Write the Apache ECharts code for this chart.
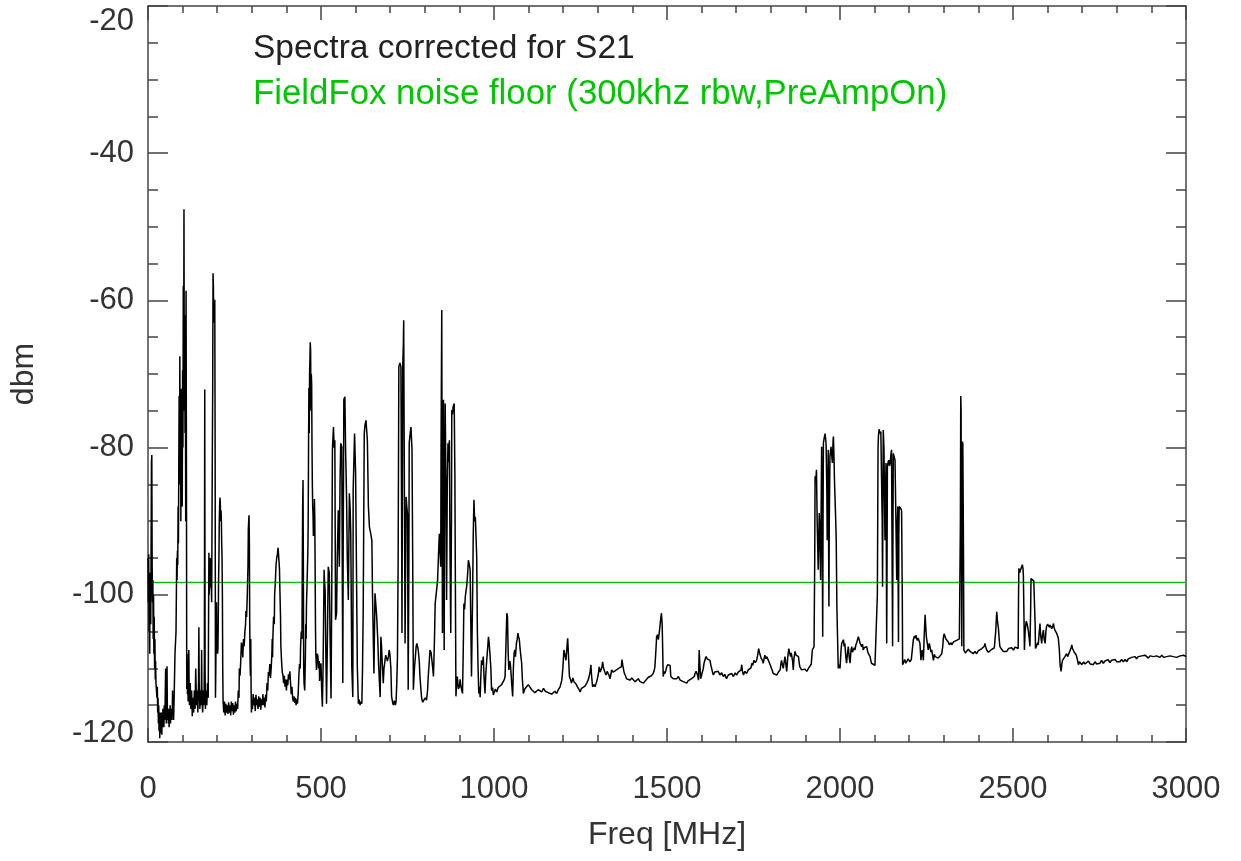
<!DOCTYPE html>
<html>
<head>
<meta charset="utf-8">
<script src="https://cdn.jsdelivr.net/npm/echarts@6/dist/echarts.min.js"></script>
<style>
html,body{margin:0;padding:0;background:#fff;}
#chart{width:1241px;height:861px;}
</style>
</head>
<body>
<div id="chart"></div>
<script>
// ---- Data ----
var xTicks = [0, 500, 1000, 1500, 2000, 2500, 3000];
var yTicks = [-120, -100, -80, -60, -40, -20];
var noiseFloorDbm = -98.3;
var legendTexts = ['Spectra corrected for S21', 'FieldFox noise floor (300khz rbw,PreAmpOn)'];

// Spectrum [freq MHz, dBm], 0 - 500 MHz
var band0to500 = [[0,-95],[1,-101],[2,-94.5],[3,-105],[4,-99],[5,-108],[6,-97],[8,-104],[10,-82],[11,-81],[12,-96],[13,-101],[14,-98],[15,-106],[16,-100],[17,-108],[18,-103],[19,-110],[20,-106],[21,-111.5],[22,-109],[23,-112],[25,-111.8],[26,-114],[27,-112.5],[28,-116],[29,-114],[30,-117.5],[31,-115],[32,-118.5],[33,-116],[34,-119.5],[35,-117],[36,-118],[37,-116],[38,-118.8],[39,-117],[40,-119],[41,-116],[42,-118],[43,-115.5],[44,-117.5],[45,-116],[46,-118],[47,-115],[48,-117],[49,-116.5],[50,-113],[51,-110],[52,-116],[53,-117.5],[54,-115],[55,-109.7],[56,-116],[57,-117],[58,-115.5],[59,-117.5],[60,-116],[61,-118],[62,-115.5],[63,-117],[64,-115],[65,-117.5],[66,-116],[67,-117],[68,-115.5],[70,-116.5],[71,-113],[72,-117],[73,-116],[74,-117],[76,-113],[78,-108],[80,-106],[81,-105],[82,-100],[83,-95],[84,-98],[85,-94],[86,-96],[87,-88],[88,-93],[89,-82.3],[90,-73],[91,-85],[92,-67.6],[93,-80],[94,-74],[95,-90],[96,-72],[97,-84],[98,-73],[99,-88],[100,-69.5],[101,-80],[102,-58],[103,-72],[104,-47.6],[105,-75],[106,-62],[107,-78],[108,-66],[109,-90],[110,-58.7],[111,-80],[112,-112.8],[113,-108],[114,-113.5],[115,-111],[116,-114.5],[117,-112],[118,-107.5],[119,-113],[120,-115],[122,-112],[124,-115.5],[126,-113],[128,-116.5],[130,-114],[132,-116],[134,-113],[136,-115.5],[138,-110],[140,-115],[142,-113],[144,-116],[146,-112],[147,-104.4],[148,-112],[150,-115.5],[152,-113],[154,-115],[155,-107.5],[156,-114],[158,-116],[160,-113],[162,-115],[163,-108],[164,-72.1],[165,-110],[166,-115.5],[168,-113],[170,-115],[172,-112],[174,-114],[175,-104],[176,-94.3],[177,-100],[178,-96.7],[179,-99],[180,-95],[182,-97],[184,-101],[186,-80],[187,-72],[188,-56.3],[189,-58],[190,-63],[192,-62],[193,-59.9],[194,-80],[195,-114],[196,-110],[197,-105],[198,-101],[199,-107],[200,-104],[201,-108],[202,-107.5],[203,-104],[204,-98],[205,-95],[206,-90],[207,-88],[208,-86.8],[209,-87.5],[210,-90],[211,-88.5],[212,-89.7],[213,-93],[214,-95],[215,-100],[216,-110],[217,-114.5],[219,-116],[221,-114.5],[223,-116.4],[225,-114.8],[227,-116],[229,-115],[231,-116.2],[233,-114.6],[235,-116],[237,-115],[239,-116.4],[241,-114.5],[243,-115.8],[245,-114.7],[247,-116.3],[249,-115],[251,-116],[253,-114.5],[255,-115.8],[257,-114.8],[259,-115.5],[261,-113],[263,-114],[264,-110],[266,-111],[268,-109],[270,-106.5],[272,-107],[274,-108.5],[276,-106],[278,-107],[280,-105],[282,-104],[283,-102.2],[285,-103],[287,-100],[289,-96],[290,-91],[291,-90],[292,-89.2],[293,-93],[294,-104],[295,-109],[296,-111],[297,-106],[298,-113],[299,-116],[300,-114.2],[302,-115.5],[304,-113.5],[306,-115],[308,-114],[310,-115.8],[312,-113.6],[314,-115],[316,-114.2],[318,-115.5],[320,-113.8],[322,-115.2],[324,-114],[326,-115.6],[328,-114.2],[330,-115],[332,-113.5],[334,-115],[336,-114],[338,-115.3],[340,-113.6],[342,-114.5],[344,-112],[346,-113],[348,-110.5],[350,-111],[352,-109.4],[354,-111.3],[356,-110],[358,-108],[359,-106],[360,-108.5],[361,-105.6],[363,-103],[365,-104],[366,-100],[368,-98.4],[370,-96],[372,-95],[374,-94.5],[376,-93.6],[378,-95],[380,-96.5],[381,-98.9],[383,-103],[384,-107],[386,-109],[388,-110.5],[390,-110.9],[392,-112],[394,-111],[396,-112.5],[398,-111.5],[400,-113],[402,-111.5],[404,-112.3],[406,-110.8],[408,-111.5],[410,-110.4],[412,-112],[414,-113.5],[416,-112.5],[418,-114],[420,-114.5],[422,-113.8],[424,-114.7],[426,-114],[428,-115],[430,-114.2],[432,-114.8],[434,-113.5],[436,-111],[438,-109.4],[440,-110],[441,-107],[443,-105],[445,-106],[446,-96],[447,-88],[448,-84.4],[449,-96],[450,-110],[451,-112],[453,-113],[455,-108],[456,-104],[457,-106],[458,-101.5],[460,-98],[461,-96],[462,-94.2],[463,-90],[464,-80],[465,-71.9],[466,-78],[467,-70],[468,-68],[469,-65.7],[470,-67],[471,-75],[472,-70],[473,-71.4],[474,-80],[475,-85],[476,-88],[477,-89.2],[478,-92],[479,-88],[480,-90],[481,-87],[482,-89.5],[483,-96],[484,-104],[485,-108],[487,-110.2],[489,-108],[491,-108.3],[493,-110],[495,-109],[496,-111.7],[498,-110]];

// 500 - 1000 MHz
var band500to1000 = [[500,-109.3],[502,-113],[504,-115.2],[506,-110],[509,-96.6],[510,-98],[512,-99.4],[514,-108],[516,-114.8],[518,-108],[521,-96.2],[524,-97.1],[526,-105],[529,-114.1],[531,-100],[533,-80.3],[536,-77.2],[538,-80],[540,-79],[542,-103.4],[545,-102.5],[547,-95],[550,-88.5],[553,-96.2],[555,-85],[557,-79.4],[560,-79.9],[563,-112],[564,-95],[566,-73.5],[569,-73.1],[571,-80],[574,-87.1],[576,-95],[579,-100.7],[582,-86.2],[584,-88],[586,-91.7],[589,-109.8],[592,-113.9],[593,-85.8],[597,-78.1],[600,-83.5],[603,-98.9],[605,-109.8],[608,-114.8],[610,-114.2],[613,-115],[615,-114.5],[618,-114.8],[620,-110],[622,-102.1],[625,-78.1],[627,-77],[630,-76.3],[634,-79],[637,-88],[640,-90.8],[643,-91.5],[647,-92.6],[649,-100.3],[653,-110.7],[656,-99.8],[658,-101],[661,-103],[664,-106],[666,-108.9],[669,-112],[671,-113.9],[673,-105.7],[675,-107],[677,-109.3],[680,-112],[682,-110],[685,-108.9],[687,-108.2],[690,-108],[692,-109],[695,-108.4],[697,-107.5],[699,-108],[702,-110],[704,-113.8],[707,-114.6],[709,-115],[712,-114.4],[715,-115],[717,-114.5],[719,-112],[721,-108.4],[723,-95],[725,-69],[728,-68.5],[731,-69],[733,-90],[734,-105.2],[735,-90],[736,-69.5],[738,-66],[739,-62.7],[740,-75],[743,-106.6],[746,-86.7],[748,-88],[750,-89],[752,-112.9],[754,-95],[755,-79.4],[758,-78],[760,-77.2],[763,-80.3],[765,-95],[767,-112.9],[770,-110],[772,-108.9],[775,-107],[777,-106.6],[779,-107],[781,-107.5],[784,-109],[786,-111.1],[789,-113],[791,-114.1],[794,-114.6],[798,-114.5],[801,-114],[805,-114.3],[808,-113],[810,-111.1],[813,-109],[815,-107.5],[818,-107.8],[820,-108],[823,-110],[825,-111.1],[828,-106],[830,-101.2],[834,-101.2],[837,-98],[839,-95.3],[842,-91.7],[846,-96.2],[847,-80],[849,-61.3],[850,-85],[851,-105.2],[852,-90],[854,-73.5],[856,-107.5],[857,-90],[859,-74],[861,-85],[863,-100.7],[865,-85],[867,-79.4],[869,-82],[871,-79],[873,-95],[875,-105.2],[877,-90],[878,-74.9],[880,-75.5],[882,-74.4],[885,-74],[887,-84],[888,-95],[890,-113.8],[892,-112],[894,-111.1],[897,-112.8],[900,-112.5],[902,-111.5],[904,-112.3],[907,-113],[909,-113.4],[911,-108],[913,-101.2],[915,-102],[917,-100.3],[919,-99.5],[921,-98.9],[924,-97],[926,-95.3],[929,-96],[931,-96.6],[933,-104],[935,-111.1],[937,-104],[938,-100.7],[940,-92],[942,-87.1],[944,-90],[946,-89.4],[948,-92],[950,-94.8],[952,-105.2],[954,-110],[956,-113.4],[958,-112.5],[960,-113.9],[962,-111],[964,-108.9],[967,-109.5],[969,-108.4],[971,-111],[974,-113.4],[976,-111],[979,-108.9],[982,-107],[984,-105.7],[986,-106.5],[988,-106.6],[991,-110],[993,-113],[996,-112.6],[998,-113.6]];

// 1000 - 1925 MHz
var band1000to1925 = [[1001,-113.5],[1004,-112.8],[1008,-113.2],[1012,-112.6],[1017,-112.5],[1022,-112.2],[1027,-112],[1030,-111.5],[1032,-111.1],[1035,-106],[1037,-102.5],[1039,-103],[1041,-108],[1043,-110.2],[1046,-109],[1048,-109.8],[1051,-112],[1054,-113.8],[1056,-110],[1058,-108],[1060,-107.5],[1062,-108.4],[1065,-106.5],[1067,-106.1],[1069,-105.2],[1071,-105.7],[1073,-106],[1075,-107.1],[1078,-108.5],[1080,-109.3],[1082,-111.5],[1085,-113.4],[1089,-112.8],[1094,-112.7],[1099,-112.2],[1104,-112.3],[1109,-112.9],[1114,-112.9],[1118,-113.3],[1123,-113.4],[1128,-112.9],[1133,-113],[1138,-113.2],[1143,-112.7],[1148,-113.1],[1152,-113],[1157,-113.3],[1162,-113.2],[1167,-113.5],[1171,-113.3],[1176,-113.1],[1181,-113.4],[1186,-112.9],[1191,-112.5],[1196,-111.6],[1199,-110],[1202,-107.5],[1205,-108.2],[1208,-108.9],[1211,-107],[1213,-105.9],[1215,-108],[1218,-111.1],[1221,-111.5],[1224,-112],[1228,-111.3],[1231,-111.8],[1234,-111.6],[1238,-112.2],[1241,-112.5],[1245,-112.8],[1249,-113.2],[1253,-112.7],[1258,-112.9],[1263,-112.4],[1268,-112],[1272,-111.6],[1275,-111.1],[1278,-110.4],[1280,-109.5],[1282,-111],[1285,-112.5],[1289,-112.2],[1292,-112.5],[1296,-111.9],[1299,-111.4],[1302,-110.6],[1304,-109.8],[1307,-110.5],[1309,-110.7],[1312,-109.8],[1314,-109.1],[1316,-109.8],[1318,-110.2],[1321,-110.6],[1324,-110.9],[1327,-110.4],[1330,-110.7],[1333,-111],[1335,-111.4],[1338,-110.8],[1340,-110.2],[1344,-110.5],[1347,-110.7],[1351,-110.3],[1355,-110.4],[1360,-110],[1364,-110.2],[1368,-109.8],[1370,-108.8],[1372,-109.5],[1375,-110.3],[1377,-110.7],[1380,-111],[1383,-111.4],[1388,-111.2],[1393,-111.6],[1398,-111.3],[1403,-111.4],[1408,-111.8],[1412,-111.6],[1417,-111.4],[1422,-111.8],[1427,-111.6],[1432,-112],[1437,-111.7],[1441,-111.6],[1446,-111.2],[1451,-111.4],[1455,-111],[1460,-110.7],[1463,-110.3],[1465,-109.8],[1468,-107.5],[1470,-105.7],[1473,-105.4],[1475,-106.1],[1478,-105],[1480,-104.8],[1482,-103.2],[1484,-102.5],[1486,-104],[1487,-106.1],[1489,-111.1],[1492,-110.4],[1494,-110.7],[1497,-110.2],[1499,-109.8],[1502,-109.5],[1505,-109.3],[1509,-109.6],[1511,-111.1],[1515,-111],[1518,-111.4],[1523,-111.2],[1528,-111.4],[1533,-111.1],[1538,-111.6],[1542,-111.4],[1547,-111.8],[1552,-111.6],[1557,-112],[1561,-111.7],[1566,-111.8],[1571,-111.4],[1576,-111.6],[1579,-111.1],[1581,-110.7],[1584,-110.4],[1586,-110.2],[1589,-111],[1591,-111.6],[1593,-107.5],[1595,-109.5],[1597,-111.4],[1600,-110.9],[1602,-110.7],[1605,-110],[1607,-109.3],[1610,-108.8],[1613,-108.4],[1616,-108.7],[1618,-108.9],[1621,-108.5],[1624,-108.9],[1627,-109.6],[1629,-110],[1632,-110.6],[1634,-110.9],[1638,-110.5],[1643,-110.7],[1648,-110.4],[1653,-110.9],[1658,-110.6],[1663,-111.1],[1667,-110.8],[1672,-111.4],[1677,-110.9],[1682,-111.1],[1687,-110.7],[1692,-111.1],[1697,-110.6],[1701,-110.9],[1706,-110.5],[1711,-110.7],[1714,-110.2],[1716,-109.5],[1718,-110.4],[1721,-110.9],[1725,-110.4],[1730,-110.7],[1735,-110.2],[1740,-110.4],[1743,-109.9],[1745,-109.3],[1748,-109.6],[1751,-108.9],[1755,-109.2],[1759,-108.9],[1762,-108.2],[1765,-107.3],[1767,-107.8],[1769,-108],[1772,-108.6],[1774,-108.4],[1776,-108.9],[1778,-109.3],[1781,-108.6],[1783,-108.2],[1786,-108.7],[1788,-108.4],[1792,-108.8],[1796,-108.9],[1799,-109.6],[1802,-110],[1805,-110.4],[1807,-110.7],[1812,-110.6],[1817,-110.9],[1822,-110.5],[1827,-110.2],[1829,-109.5],[1831,-108.9],[1834,-109.6],[1836,-110],[1839,-109],[1841,-108.4],[1844,-109.6],[1846,-110.4],[1849,-108.5],[1852,-107.3],[1855,-108],[1857,-108.4],[1859,-107.9],[1861,-107.7],[1863,-109],[1865,-110.2],[1867,-108.6],[1870,-107.7],[1873,-108.2],[1875,-108],[1878,-108.3],[1880,-108.4],[1882,-109.2],[1884,-109.8],[1889,-110.2],[1894,-110.4],[1899,-110.1],[1904,-110.4],[1909,-110],[1913,-110.2],[1917,-109.4],[1920,-107.5],[1923,-107.3],[1925,-107.05]];

// 1925 - 3000 MHz
var band1925to3000 = [[1927,-95],[1928,-83.9],[1930,-84.5],[1932,-83],[1934,-90],[1937,-96.6],[1940,-88.9],[1942,-92],[1944,-98],[1946,-85],[1947,-79.9],[1949,-95],[1950,-105.7],[1951,-90],[1952,-79.4],[1955,-78.5],[1957,-78.1],[1959,-79],[1960,-79.9],[1962,-86],[1963,-92.6],[1965,-85],[1966,-80.3],[1967,-92],[1968,-101.6],[1969,-90],[1971,-81.2],[1974,-79.9],[1976,-81],[1978,-82.1],[1980,-79],[1981,-78.5],[1983,-82],[1984,-84.4],[1987,-88.9],[1989,-92.3],[1991,-101.6],[1993,-106],[1995,-110],[1998,-109.5],[2000,-110],[2003,-107.5],[2005,-106.6],[2008,-106.8],[2010,-106.1],[2012,-107],[2014,-106.6],[2017,-108.5],[2019,-109.3],[2022,-107.8],[2024,-107.05],[2027,-108.6],[2029,-109.3],[2032,-107.5],[2034,-107.05],[2036,-107.8],[2038,-108],[2041,-107.2],[2043,-107.5],[2046,-106.8],[2049,-106.4],[2051,-106],[2053,-105.7],[2056,-106.2],[2058,-106.6],[2061,-106.8],[2063,-107.05],[2065,-106.7],[2067,-107.5],[2070,-107.2],[2074,-107.4],[2077,-107.05],[2080,-107.7],[2082,-108],[2085,-108.2],[2087,-108.4],[2089,-108.9],[2091,-109.3],[2094,-109.1],[2096,-109.5],[2101,-109.6],[2106,-109.8],[2108,-100],[2110,-80],[2111,-78.5],[2113,-77.5],[2116,-78.1],[2118,-77.8],[2120,-77.6],[2122,-90],[2123,-98.9],[2124,-88],[2125,-77.6],[2127,-80],[2130,-92.6],[2132,-85],[2133,-82.1],[2134,-95],[2135,-106.6],[2136,-95],[2137,-82.6],[2139,-82],[2141,-81.7],[2143,-82.5],[2145,-82.1],[2147,-81],[2149,-80.3],[2150,-90],[2152,-107],[2153,-92],[2154,-80.8],[2157,-81],[2159,-81.7],[2161,-88],[2164,-98],[2166,-90],[2167,-88],[2169,-106.4],[2170,-92],[2171,-88],[2173,-88],[2176,-88.3],[2178,-88.6],[2180,-100],[2181,-109.5],[2183,-109.3],[2187,-108.8],[2190,-109.3],[2193,-109.1],[2197,-108.7],[2202,-109.1],[2206,-108.8],[2210,-108.9],[2212,-106.1],[2215,-105.6],[2217,-105.9],[2220,-105.5],[2223,-106.2],[2226,-105.9],[2229,-106.3],[2231,-106.6],[2234,-108.9],[2236,-107.8],[2238,-107.5],[2241,-108.9],[2243,-106],[2246,-102.7],[2248,-104.5],[2250,-105.9],[2253,-106.8],[2255,-107.5],[2258,-106.6],[2260,-107],[2263,-107.8],[2265,-107.5],[2268,-108.3],[2270,-108.9],[2273,-108.1],[2275,-108.4],[2279,-108.2],[2284,-108.6],[2289,-108.4],[2294,-108],[2297,-107],[2299,-105.7],[2301,-105.3],[2303,-105.5],[2306,-106],[2308,-105.9],[2311,-106.2],[2313,-106.4],[2316,-106.8],[2318,-107],[2321,-106.5],[2323,-106.8],[2328,-106.4],[2332,-106.6],[2337,-106.2],[2342,-106.4],[2345,-106],[2347,-106.1],[2348,-90],[2349,-73],[2350,-75],[2351,-95],[2352,-107],[2353,-95],[2354,-79.2],[2355,-79.5],[2356,-79.3],[2357,-95],[2358,-107.5],[2362,-107.9],[2366,-107.7],[2371,-107.4],[2376,-107.7],[2380,-107.9],[2385,-108],[2390,-107.7],[2395,-108],[2400,-107.6],[2405,-107.7],[2410,-107.3],[2414,-107.5],[2417,-107],[2419,-106.6],[2421,-107.1],[2424,-107.5],[2429,-107.8],[2434,-107.7],[2439,-107.4],[2443,-107.5],[2446,-107.2],[2448,-107],[2450,-105],[2453,-102.3],[2455,-103.5],[2458,-104.6],[2460,-106],[2462,-107],[2467,-107.4],[2472,-107.7],[2477,-107.5],[2482,-107.7],[2487,-107.3],[2491,-107.5],[2496,-107.2],[2501,-107.5],[2506,-107.1],[2511,-107.3],[2515,-107.3],[2516,-100],[2517,-96.4],[2519,-97],[2522,-96.6],[2525,-96.2],[2527,-95.9],[2529,-96.5],[2530,-97.5],[2532,-104],[2533,-107.5],[2535,-105],[2538,-103.6],[2541,-104],[2544,-104.8],[2547,-106],[2549,-107],[2551,-102],[2552,-97.8],[2555,-97.9],[2557,-98],[2560,-98.1],[2562,-98.2],[2564,-104],[2565,-107.3],[2568,-107],[2571,-106.5],[2573,-106.8],[2576,-105],[2578,-103.9],[2580,-105.5],[2583,-106.6],[2585,-105.5],[2588,-104.8],[2590,-106],[2593,-106.6],[2595,-105],[2597,-104.3],[2600,-104],[2602,-103.9],[2605,-104.4],[2607,-104.1],[2610,-104.3],[2612,-104.6],[2615,-104.2],[2617,-103.9],[2619,-104.5],[2621,-104.8],[2624,-105],[2626,-105.2],[2629,-105.6],[2631,-105.9],[2634,-107.5],[2636,-109.5],[2639,-110.4],[2641,-109.5],[2643,-108.9],[2646,-108.7],[2650,-108.4],[2653,-108.2],[2655,-108],[2658,-108.4],[2660,-108.2],[2663,-107.8],[2665,-107.7],[2668,-107.2],[2670,-106.8],[2672,-107.3],[2674,-107.5],[2677,-107.8],[2679,-107.7],[2682,-108.1],[2684,-108.4],[2687,-109],[2689,-109.5],[2692,-109.1],[2694,-109.3],[2699,-109.5],[2704,-109.1],[2708,-109.4],[2713,-109.3],[2718,-109],[2723,-109.4],[2727,-109.2],[2732,-109.5],[2737,-109.1],[2742,-109.4],[2746,-109.2],[2751,-109.3],[2756,-108.9],[2761,-109.3],[2766,-109],[2771,-109.1],[2775,-108.8],[2780,-109.2],[2785,-108.9],[2790,-109.1],[2795,-108.8],[2800,-109.1],[2804,-108.9],[2809,-109.1],[2814,-108.8],[2819,-109.1],[2824,-108.8],[2829,-109.1],[2833,-108.7],[2838,-108.8],[2843,-108.5],[2848,-108.6],[2853,-108.4],[2857,-108.7],[2862,-108.4],[2867,-108.6],[2872,-108.3],[2877,-108.5],[2882,-108.2],[2886,-108.4],[2891,-108.6],[2896,-108.3],[2901,-108.5],[2906,-108.4],[2911,-108.6],[2915,-108.3],[2920,-108.5],[2925,-108.5],[2930,-108.2],[2935,-108.5],[2940,-108.3],[2944,-108.4],[2949,-108.6],[2954,-108.3],[2959,-108.5],[2963,-108.4],[2968,-108.2],[2973,-108.5],[2978,-108.3],[2983,-108.3],[2988,-108.5],[2993,-108.2],[2997,-108.4],[3000,-108.4]];

var spectrum = band0to500.concat(band500to1000, band1000to1925, band1925to3000);
var noiseFloor = [[xTicks[0], noiseFloorDbm], [xTicks[xTicks.length - 1], noiseFloorDbm]];

// ---- Chart ----
var FONT = '"Liberation Sans", Helvetica, Arial, sans-serif';
var AXIS_COLOR = '#444';
var TEXT_COLOR = '#333';
var GREEN = '#00c800';

function axisCommon(isX, showLabels, pos) {
  var a = {
    type: 'value',
    position: pos,
    min: isX ? xTicks[0] : yTicks[0],
    max: isX ? xTicks[xTicks.length - 1] : yTicks[yTicks.length - 1],
    interval: isX ? 500 : 20,
    axisLine: { show: true, onZero: false, lineStyle: { color: AXIS_COLOR, width: 1.5 } },
    axisTick: { show: true, inside: true, length: isX ? 14 : 20, lineStyle: { color: AXIS_COLOR, width: 1.5 } },
    minorTick: { show: true, splitNumber: isX ? 5 : 4, length: isX ? 7 : 10, lineStyle: { color: AXIS_COLOR, width: 1.5 } },
    splitLine: { show: false },
    minorSplitLine: { show: false },
    axisLabel: { show: false }
  };
  if (showLabels) {
    a.axisLabel = {
      show: true,
      color: TEXT_COLOR,
      fontFamily: FONT,
      fontSize: 31,
      margin: isX ? 32 : 14,
      formatter: function (v) {
        if (!isX && v === yTicks[0]) { return '{lo|' + v + '}'; }
        return String(v);
      },
      rich: {
        lo: { color: TEXT_COLOR, fontFamily: FONT, fontSize: 31, lineHeight: 18 }
      }
    };
    if (!isX) {
      a.axisLabel.verticalAlignMaxLabel = 'top';
      a.axisLabel.verticalAlignMinLabel = 'bottom';
    }
  }
  return a;
}

var xMain = axisCommon(true, true, 'bottom');
xMain.name = 'Freq [MHz]';
xMain.nameLocation = 'middle';
xMain.nameGap = 77;
xMain.nameTextStyle = { color: TEXT_COLOR, fontFamily: FONT, fontSize: 32 };

var yMain = axisCommon(false, true, 'left');
yMain.name = 'dbm';
yMain.nameLocation = 'middle';
yMain.nameGap = 108;
yMain.nameTextStyle = { color: TEXT_COLOR, fontFamily: FONT, fontSize: 32 };

var chart = echarts.init(document.getElementById('chart'), null, { renderer: 'canvas' });
chart.setOption({
  animation: false,
  backgroundColor: '#ffffff',
  grid: { left: 148, right: 55, top: 6, bottom: 119, containLabel: false },
  title: [
    { text: legendTexts[0], left: 248, top: 27, textStyle: { color: '#222', fontFamily: FONT, fontSize: 33.5, fontWeight: 'normal' } },
    { text: legendTexts[1], left: 248, top: 72, textStyle: { color: GREEN, fontFamily: FONT, fontSize: 34.8, fontWeight: 'normal' } }
  ],
  xAxis: [xMain, axisCommon(true, false, 'top')],
  yAxis: [yMain, axisCommon(false, false, 'right')],
  series: [
    {
      name: legendTexts[0],
      type: 'line',
      data: spectrum,
      showSymbol: false,
      symbol: 'none',
      lineStyle: { color: '#000', width: 1.5 },
      silent: true,
      z: 3
    },
    {
      name: legendTexts[1],
      type: 'line',
      data: noiseFloor,
      showSymbol: false,
      symbol: 'none',
      lineStyle: { color: GREEN, width: 1.2 },
      silent: true,
      z: 2
    }
  ]
});
</script>
</body>
</html>
